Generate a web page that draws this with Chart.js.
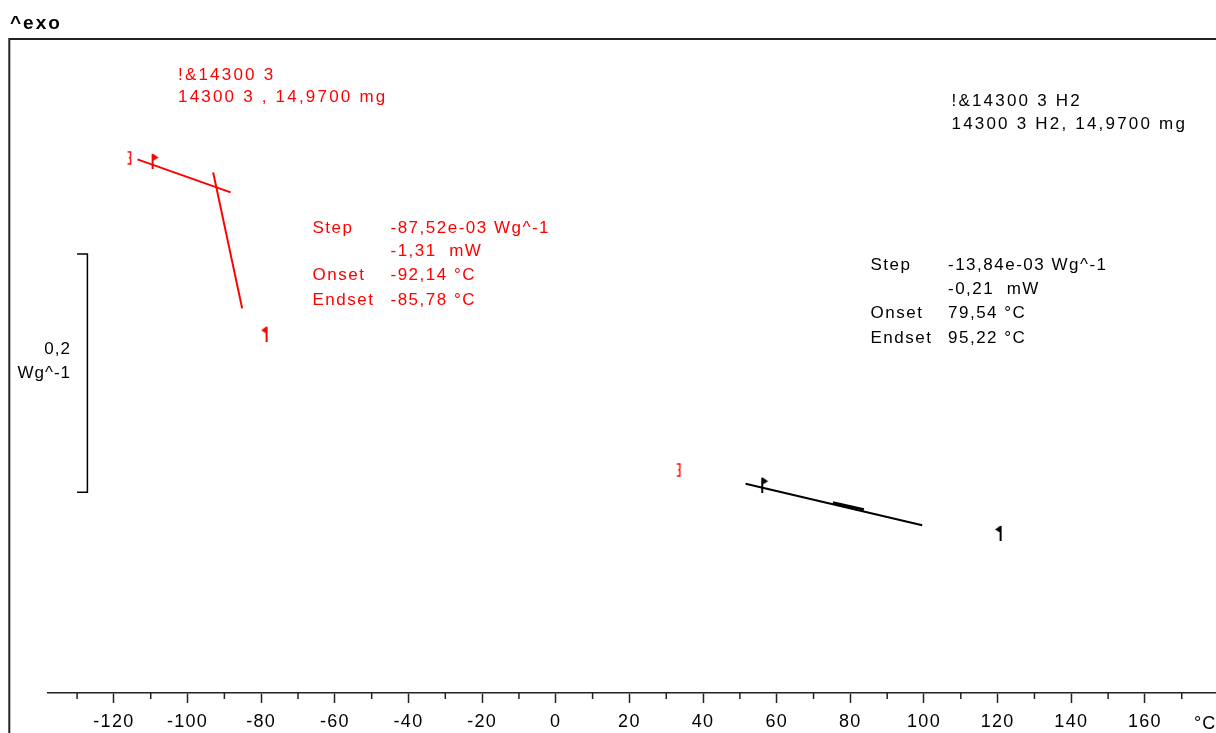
<!DOCTYPE html>
<html><head><meta charset="utf-8">
<script src="https://cdn.jsdelivr.net/npm/chart.js@4/dist/chart.umd.min.js"></script>
<style>html,body{margin:0;padding:0;background:#fff;overflow:hidden}#wrap{position:relative;width:1216px;height:733px}canvas{display:block}</style>
</head><body><div id="wrap"><canvas id="c" width="1216" height="733"></canvas></div>
<script>
// ---- data: temperature (°C) vs heat flow (Wg^-1, arbitrary offset) ----
const xTickLabels = [-120,-100,-80,-60,-40,-20,0,20,40,60,80,100,120,140,160];
const xMinorTicks = [-130,-110,-90,-70,-50,-30,-10,10,30,50,70,90,110,130,150,170];
const xRange = [-137.9, 179.3];
const yRange = [0, 0.55];

// red sample "14300 3"
const redBaselineTangent   = [[-113.6, 0.4481], [-88.3, 0.4204]];
const redInflectionTangent = [[-93.05, 0.4372], [-85.17, 0.3230]];
const redStartFlag = [[-109.5, 0.4467]];
const redEndFlag   = [[-78.54, 0.3017]];
const redBrackets  = [[-115.6, 0.4494], [33.57, 0.1873]];

// black sample "14300 3 H2"
const blackBaselineTangent   = [[51.55, 0.1757], [99.51, 0.1408]];
const blackInflectionTangent = [[75.26, 0.1600], [83.68, 0.1541]];
const blackStartFlag = [[56.06, 0.1749]];
const blackEndFlag   = [[120.8, 0.1344]];

// 0,2 Wg^-1 scale bar
const scaleBarX = [-130.0, -127.2];
const scaleBarBottom = 0.1686;
const scaleBarStep = 0.2;

// texts
const redTitle = ['!&14300 3', '14300 3 , 14,9700 mg'];
const redResult = [['Step', '-87,52e-03 Wg^-1'], ['', '-1,31  mW'], ['Onset', '-92,14 °C'], ['Endset', '-85,78 °C']];
const blackTitle = ['!&14300 3 H2', '14300 3 H2, 14,9700 mg'];
const blackResult = [['Step', '-13,84e-03 Wg^-1'], ['', '-0,21  mW'], ['Onset', '79,54 °C'], ['Endset', '95,22 °C']];
const scaleBarLabel = ['0,2', 'Wg^-1'];

const FONT = '"Liberation Sans", Arial, sans-serif';
const RED = '#ff0000';
const BLACK = '#000000';

// ---- marker shapes ----
function makeFlag(color, dir) {
  const c = document.createElement('canvas');
  c.width = 16; c.height = 16;
  const g = c.getContext('2d');
  g.fillStyle = color;
  g.fillRect(7, 1, 2, 15);
  g.beginPath();
  if (dir > 0) { g.moveTo(8, 0.5); g.lineTo(14, 4.5); g.lineTo(8, 8); }
  else { g.moveTo(8, 0.5); g.lineTo(2.5, 4.5); g.lineTo(8, 8); }
  g.closePath(); g.fill();
  return c;
}
function makeBracket(color) {
  const c = document.createElement('canvas');
  c.width = 8; c.height = 14;
  const g = c.getContext('2d');
  g.strokeStyle = color; g.lineWidth = 1.4;
  g.beginPath();
  g.moveTo(1.5, 1); g.lineTo(4.5, 1); g.lineTo(4.5, 6); g.lineTo(3.5, 7); g.lineTo(4.5, 8); g.lineTo(4.5, 13); g.lineTo(1.5, 13);
  g.stroke();
  return c;
}

const toPts = a => a.map(([x, y]) => ({x, y}));
const lineDs = (pts, color, w) => ({type: 'line', data: toPts(pts), borderColor: color, borderWidth: w, pointRadius: 0, fill: false, tension: 0, borderCapStyle: 'butt'});
const markDs = (pts, style) => ({type: 'scatter', data: toPts(pts), pointStyle: style, pointRadius: 8, showLine: false, backgroundColor: 'transparent', borderColor: 'transparent'});

const scaleBarPts = [[scaleBarX[0], scaleBarBottom + scaleBarStep], [scaleBarX[1], scaleBarBottom + scaleBarStep], [scaleBarX[1], scaleBarBottom], [scaleBarX[0], scaleBarBottom]];

const decor = {
  id: 'decor',
  beforeDraw(chart) {
    chart.ctx.letterSpacing = '1.3px';
  },
  afterDraw(chart) {
    const ctx = chart.ctx;
    const xs = chart.scales.x;
    const bottom = chart.chartArea.bottom;
    ctx.save();
    // frame
    ctx.strokeStyle = '#222';
    ctx.lineWidth = 2;
    ctx.beginPath();
    ctx.moveTo(9.3, 733); ctx.lineTo(9.3, 39); ctx.lineTo(1216, 39);
    ctx.stroke();
    // minor ticks
    ctx.lineWidth = 1.5;
    ctx.beginPath();
    xMinorTicks.forEach(v => { const px = xs.getPixelForValue(v); ctx.moveTo(px, bottom); ctx.lineTo(px, bottom + 6); });
    ctx.stroke();

    function txt(s, x, y, color, font, ls, align) {
      ctx.font = font; ctx.fillStyle = color; ctx.letterSpacing = ls + 'px';
      ctx.textBaseline = 'alphabetic';
      ctx.textAlign = align || 'left';
      ctx.fillText(s, align === 'right' ? x + ls : x, y);
    }
    txt('^exo', 10, 28.5, '#000', 'bold 19px ' + FONT, 2);
    // red annotations
    txt(redTitle[0], 178, 79.5, RED, '17px ' + FONT, 2.2);
    txt(redTitle[1], 178, 102, RED, '17px ' + FONT, 2.2);
    const rb = [232.5, 256, 280, 305];
    redResult.forEach((r, i) => { if (r[0]) txt(r[0], 312.5, rb[i], RED, '17px ' + FONT, 1.5); txt(r[1], 390.5, rb[i], RED, '17px ' + FONT, 1.5); });
    // black annotations
    txt(blackTitle[0], 951.5, 105.5, BLACK, '17px ' + FONT, 2.2);
    txt(blackTitle[1], 951.5, 129, BLACK, '17px ' + FONT, 2.2);
    const bb = [270, 293.5, 318, 342.5];
    blackResult.forEach((r, i) => { if (r[0]) txt(r[0], 870.5, bb[i], BLACK, '17px ' + FONT, 1.5); txt(r[1], 948, bb[i], BLACK, '17px ' + FONT, 1.5); });
    // scale bar label
    txt(scaleBarLabel[0], 70, 354, BLACK, '17px ' + FONT, 1, 'right');
    txt(scaleBarLabel[1], 70, 378, BLACK, '17px ' + FONT, 1, 'right');
    // unit
    txt('°C', 1194, 728.5, BLACK, '18px ' + FONT, 1);
    ctx.restore();
  }
};

new Chart(document.getElementById('c'), {
  type: 'scatter',
  data: {
    datasets: [
      lineDs(scaleBarPts, '#000', 1.5),
      lineDs(redBaselineTangent, RED, 2),
      lineDs(redInflectionTangent, RED, 2),
      lineDs(blackBaselineTangent, BLACK, 2),
      lineDs(blackInflectionTangent, BLACK, 2.5),
      markDs(redStartFlag, makeFlag(RED, 1)),
      markDs(redEndFlag, makeFlag(RED, -1)),
      markDs(redBrackets, makeBracket(RED)),
      markDs(blackStartFlag, makeFlag(BLACK, 1)),
      markDs(blackEndFlag, makeFlag(BLACK, -1))
    ]
  },
  options: {
    responsive: false,
    animation: false,
    devicePixelRatio: 1,
    layout: {autoPadding: false, padding: {left: 48, top: 38, right: 0, bottom: 0}},
    plugins: {legend: {display: false}, tooltip: {enabled: false}},
    events: [],
    scales: {
      x: {
        type: 'linear',
        position: 'bottom',
        min: xRange[0], max: xRange[1],
        afterFit: s => { s.height = 40; s.paddingLeft = 0; s.paddingRight = 0; },
        border: {display: true, color: '#222', width: 1.5},
        grid: {
          display: true, drawOnChartArea: false, drawTicks: true, tickLength: 10, tickWidth: 1.5,
          tickColor: c => (c.tick && xTickLabels.includes(c.tick.value)) ? '#222' : 'rgba(0,0,0,0)'
        },
        ticks: {
          stepSize: 10, includeBounds: false, autoSkip: false, maxRotation: 0, minRotation: 0,
          padding: 8, color: '#000', font: {family: FONT, size: 18},
          callback: v => xTickLabels.includes(v) ? String(v) : ''
        }
      },
      y: {type: 'linear', display: false, min: yRange[0], max: yRange[1]}
    }
  },
  plugins: [decor]
});
</script></body></html>
